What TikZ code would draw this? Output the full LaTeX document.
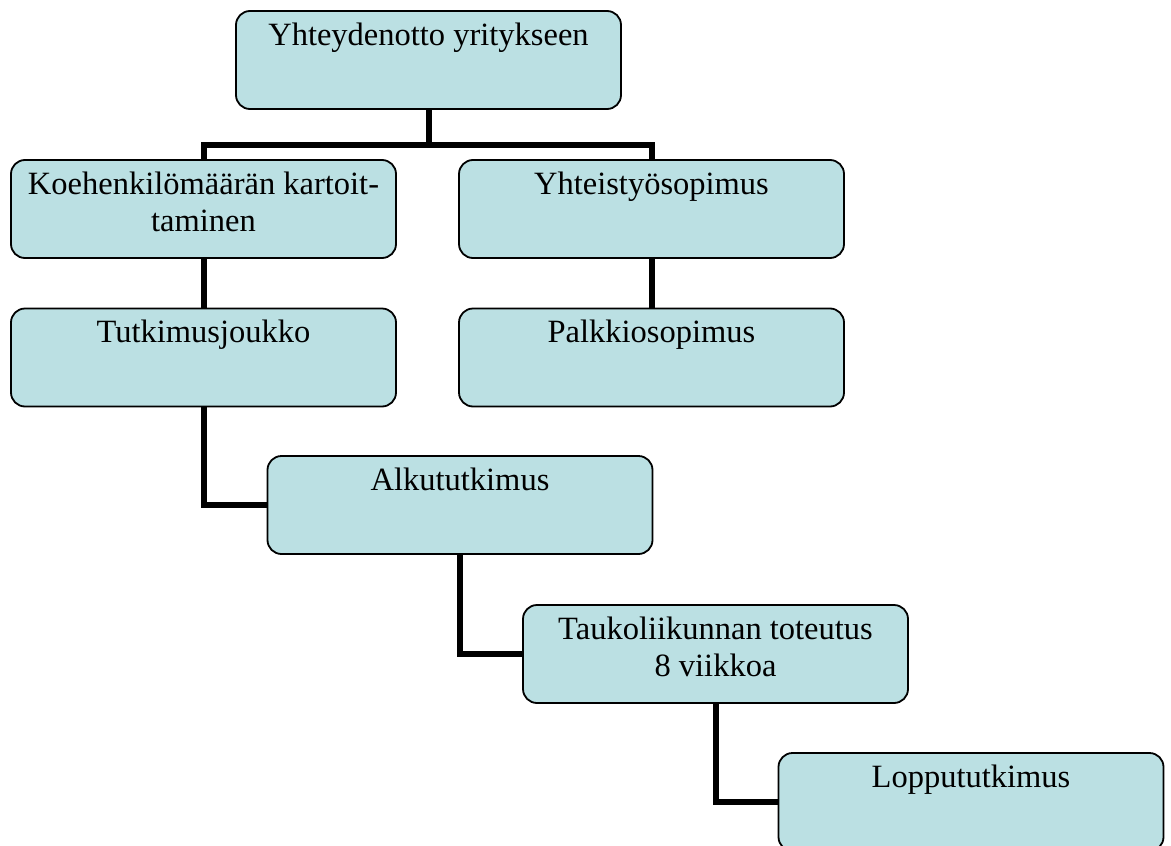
\documentclass[tikz,border=0pt]{standalone}
\usepackage{fontspec}
\setmainfont{Liberation Serif}
\definecolor{boxfill}{RGB}{187,224,227}
\begin{document}
\begin{tikzpicture}[x=1pt,y=1pt,
  box/.style={draw=black, line width=1.8pt, fill=boxfill, rounded corners=14pt,
    minimum width=385pt, minimum height=98pt, inner sep=0pt},
  lab/.style={anchor=base, yshift=-35pt, inner sep=0pt, font=\fontsize{32.5}{37}\selectfont},
  conn/.style={draw=black, line width=6pt}]
\useasboundingbox (0,0) rectangle (1171,-846);
\node[box, label={[lab]north:Yhteydenotto yritykseen}] (top) at (428.5,-60) {};
\node[box, label={[lab]north:Koehenkilömäärän kartoit-}, label={[lab,yshift=-37pt]north:taminen}] (koe) at (203.5,-209) {};
\node[box, label={[lab]north:Yhteistyösopimus}] (yht) at (651.5,-209) {};
\node[box, label={[lab]north:Tutkimusjoukko}] (tut) at (203.5,-357.5) {};
\node[box, label={[lab]north:Palkkiosopimus}] (pal) at (651.5,-357.5) {};
\node[box, label={[lab]north:Alkututkimus}] (alk) at (460,-505) {};
\node[box, label={[lab]north:Taukoliikunnan toteutus}, label={[lab,yshift=-37pt]north:8 viikkoa}] (tau) at (715.5,-654) {};
\node[box, label={[lab]north:Loppututkimus}] (lop) at (971,-802) {};
\draw[conn] (top.south) -- ++(0,-35) coordinate (hub);
\draw[conn] (koe.north) |- (hub) -| (yht.north);
\draw[conn] (koe) -- (tut);
\draw[conn] (yht) -- (pal);
\draw[conn] (tut.south) |- (alk.west);
\draw[conn] (alk.south) |- (tau.west);
\draw[conn] (tau.south) |- (lop.west);
\end{tikzpicture}
\end{document}
